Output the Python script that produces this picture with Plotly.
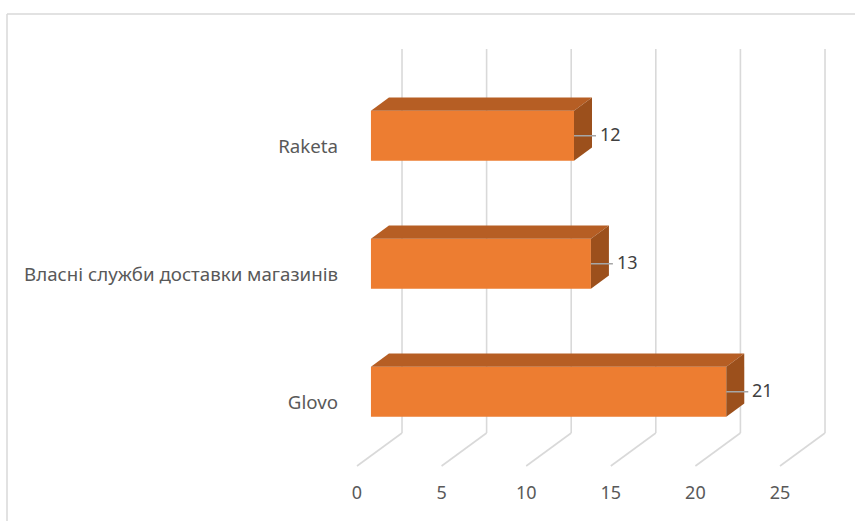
import plotly.graph_objects as go

# ---- data ----
categories = ["Glovo", "Власні служби доставки магазинів", "Raketa"]
values = [21, 13, 12]
x_ticks = [0, 5, 10, 15, 20, 25]

# ---- layout / style constants ----
W, H = 855, 521
ML, MB, MT, MR = 339, 41, 0, 0
ORIGIN_PX = 357.0      # pixel of value 0 on the front floor edge
PX_PER_UNIT = 16.92
CAT0_PX = 402.0        # pixel of first category (front floor)
PX_PER_CAT = 128.0

DX = 2.66              # floor depth in value units
DY = 0.258             # floor depth in category units
FRONT, BACK = 0.31, 0.71
BAR_W = 0.39

FACE = "#ED7D31"
TOP = "#B65E24"
SIDE = "#9C501C"
GRID = "#D9D9D9"
FONT = "Noto Sans"

plot_w = W - ML - MR
plot_h = H - MT - MB
x_lo = (ML - ORIGIN_PX) / PX_PER_UNIT
x_hi = (W - MR - ORIGIN_PX) / PX_PER_UNIT
y_hi = (CAT0_PX - MT) / PX_PER_CAT
y_lo = (CAT0_PX - (H - MB)) / PX_PER_CAT

n = len(categories)
ypos = list(range(n))

fig = go.Figure()

base = FRONT * DX
ybar = [y + FRONT * DY for y in ypos]
fig.add_trace(go.Bar(
    y=ybar, x=values, base=[base] * n, orientation="h", width=BAR_W,
    marker=dict(color=FACE, line=dict(width=0)),
    hovertext=categories, hoverinfo="text+x", showlegend=False,
))

shapes = []
# gridlines (back wall + floor)
for t in x_ticks:
    shapes.append(dict(type="line", xref="x", yref="y", layer="below",
                       x0=t + DX, x1=t + DX, y0=-0.5 + DY, y1=n - 0.5 + DY,
                       line=dict(color=GRID, width=1.6)))
    shapes.append(dict(type="line", xref="x", yref="y", layer="below",
                       x0=t, x1=t + DX, y0=-0.5, y1=-0.5 + DY,
                       line=dict(color=GRID, width=1.6)))

ddx = (BACK - FRONT) * DX
ddy = (BACK - FRONT) * DY
annotations = []
for yb, v in zip(ybar, values):
    x1 = base + v
    yt = yb + BAR_W / 2
    yb0 = yb - BAR_W / 2
    # top face
    shapes.append(dict(type="path", xref="x", yref="y", layer="above",
                       path=f"M {base},{yt} L {x1},{yt} L {x1+ddx},{yt+ddy} L {base+ddx},{yt+ddy} Z",
                       fillcolor=TOP, line=dict(width=0)))
    # side face
    shapes.append(dict(type="path", xref="x", yref="y", layer="above",
                       path=f"M {x1},{yb0} L {x1},{yt} L {x1+ddx},{yt+ddy} L {x1+ddx},{yb0+ddy} Z",
                       fillcolor=SIDE, line=dict(width=0)))
    # leader line
    shapes.append(dict(type="line", xref="x", yref="y", layer="above",
                       x0=x1, x1=x1 + 1.3, y0=yb, y1=yb,
                       line=dict(color="#A6A6A6", width=1.5)))
    annotations.append(dict(x=x1 + 1.4, y=yb + 0.01, xref="x", yref="y", text=str(v),
                            showarrow=False, xanchor="left", yanchor="middle",
                            font=dict(family=FONT, size=18, color="#404040")))

# chart area border
def px_x(p):
    return (p - ML) / plot_w

def px_y(p):
    return 1 - (p - MT) / plot_h

shapes.append(dict(type="line", xref="paper", yref="paper", x0=px_x(7), x1=px_x(7),
                   y0=px_y(14), y1=px_y(H + 5), line=dict(color="#D9D9D9", width=1.5)))
shapes.append(dict(type="line", xref="paper", yref="paper", x0=px_x(7), x1=px_x(W + 5),
                   y0=px_y(14), y1=px_y(14), line=dict(color="#D9D9D9", width=1.5)))

fig.update_layout(
    width=W, height=H,
    margin=dict(l=ML, r=MR, t=MT, b=MB, pad=0),
    paper_bgcolor="white", plot_bgcolor="white",
    shapes=shapes, annotations=annotations,
    xaxis=dict(range=[x_lo, x_hi], tickvals=x_ticks, showgrid=False, zeroline=False,
               showline=False, ticks="", tickfont=dict(family=FONT, size=18, color="#595959"),
               fixedrange=True),
    yaxis=dict(range=[y_lo, y_hi], tickvals=ypos, ticktext=categories, showgrid=False,
               zeroline=False, showline=False, ticks="",
               tickfont=dict(family=FONT, size=18.7, color="#595959"), fixedrange=True),
)

fig.write_html("out.html")
